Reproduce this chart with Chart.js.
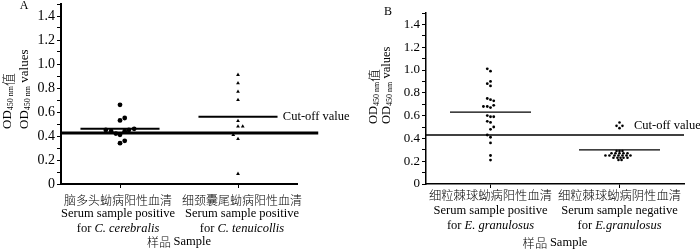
<!DOCTYPE html>
<html>
<head>
<meta charset="utf-8">
<script src="https://cdn.jsdelivr.net/npm/chart.js@4.4.0/dist/chart.umd.min.js"></script>
<style>
  html, body { margin: 0; padding: 0; background: #fff; }
  #wrap { position: relative; width: 700px; height: 249px; overflow: hidden; }
  .panel { position: absolute; top: 0; width: 350px; height: 249px; }
</style>
</head>
<body>
<div id="wrap">
  <div class="panel" style="left:0"><canvas id="chartA" width="350" height="249"></canvas></div>
  <div class="panel" style="left:350px"><canvas id="chartB" width="350" height="249"></canvas></div>
</div>
<script>
/*
 * OD450 values of serum samples, panels A and B
 **/

// Panel A: C. cerebralis / C. tenuicollis positive sera
var aCerebralis = [0.66, 0.55, 0.53, 0.45, 0.44, 0.42, 0.41, 0.44, 0.45, 0.46, 0.36, 0.34];
var aCerebralisJitter = [0, 0.04, 0, -0.12, -0.075, -0.035, 0, 0.04, 0.075, 0.12, 0.04, 0];
var aTenuicollis = [0.91, 0.84, 0.77, 0.70, 0.525, 0.48, 0.48, 0.41, 0.375, 0.085];
var aTenuicollisJitter = [0, 0, 0, 0, 0, 0, 0.04, -0.04, 0, 0];
var aMeans = [0.46, 0.56];
var aCutoff = 0.425;
var aLabelCn = ['脑多头蚴病阳性血清', '细颈囊尾蚴病阳性血清'];
var aLabelEn = ['Serum sample positive', 'Serum sample positive'];
var aSpecies = ['C. cerebralis', 'C. tenuicollis'];

// Panel B: E. granulosus positive / negative sera
var bPositive = [1.01, 0.99, 0.90, 0.88, 0.86, 0.75, 0.74, 0.73, 0.69, 0.68, 0.68, 0.67,
                 0.60, 0.59, 0.59, 0.55, 0.54, 0.50, 0.48, 0.43, 0.41, 0.36, 0.25, 0.21];
var bPositiveJitter = [-0.025, 0, 0, -0.025, 0, -0.025, 0, 0.025, 0.025, -0.055, -0.025, 0,
                       -0.025, 0, 0.025, -0.025, 0, 0.025, 0, -0.025, 0, 0, 0, 0];
var bNegative = [0.54, 0.51, 0.51, 0.49,
                 0.29, 0.29, 0.29,
                 0.27, 0.27, 0.27, 0.27, 0.27,
                 0.25, 0.25, 0.25, 0.25, 0.25, 0.25, 0.25,
                 0.23, 0.23, 0.23, 0.23, 0.23,
                 0.21, 0.21];
var bNegativeJitter = [0, -0.023, 0.023, 0,
                       -0.023, 0, 0.023,
                       -0.062, -0.031, 0, 0.031, 0.062,
                       -0.109, -0.078, -0.039, -0.008, 0.023, 0.054, 0.085,
                       -0.047, -0.016, 0.008, 0.031, 0.062,
                       -0.008, 0.016];
var bMeans = [0.63, 0.30];
var bCutoff = 0.43;
var bLabelCn = ['细粒棘球蚴病阳性血清', '细粒棘球蚴病阴性血清'];
var bLabelEn = ['Serum sample positive', 'Serum sample negative'];
var bSpecies = ['E. granulosus', 'E.granulosus'];

var yTickValues = [0, 0.2, 0.4, 0.6, 0.8, 1.0, 1.2, 1.4];
var categoryCenters = [0.5, 1.5];

(function() {

    var SERIF = "'Liberation Serif', 'Times New Roman', 'Noto Sans CJK SC', serif";
    var CJK = "'Noto Sans CJK SC', 'Liberation Serif', sans-serif";

    function font(size, style) {
	return (style ? style + ' ' : '') + size + 'px ' + SERIF;
    }

    // text drawn bottom-to-top, parts = [text, size, shift, family]
    function drawVertical(ctx, parts, x, y) {
	ctx.save();
	ctx.translate(x, y);
	ctx.rotate(-Math.PI / 2);
	ctx.textAlign = 'left';
	ctx.textBaseline = 'middle';
	var pos = 0;
	parts.forEach(function(p) {
	    ctx.font = p[3] ? '300 ' + p[1] + 'px ' + CJK : font(p[1]);
	    ctx.fillText(p[0], pos, p[2]);
	    pos += ctx.measureText(p[0]).width;
	});
	ctx.restore();
    }

    function textPlugin(p) {
	return {
	    id: 'panelText',
	    afterDraw: function(chart) {
		var ctx = chart.ctx;
		var xs = chart.scales.x, ys = chart.scales.y;
		ctx.save();
		ctx.fillStyle = '#000';
		ctx.textBaseline = 'middle';

		categoryCenters.forEach(function(c, i) {
		    var px = xs.getPixelForValue(c) + p.labelShift[i];
		    ctx.textAlign = 'center';
		    ctx.font = '300 ' + p.cnSize + 'px ' + CJK;
		    ctx.fillText(p.cn[i], px, ys.bottom + p.rows[0]);
		    ctx.font = font(p.labelSize);
		    ctx.fillText(p.en[i], px, ys.bottom + p.rows[1]);

		    var w1 = ctx.measureText('for ').width;
		    ctx.font = font(p.labelSize, 'italic');
		    var w2 = ctx.measureText(p.species[i]).width;
		    var left = px - (w1 + w2) / 2;
		    ctx.textAlign = 'left';
		    ctx.font = font(p.labelSize);
		    ctx.fillText('for ', left, ys.bottom + p.rows[2]);
		    ctx.font = font(p.labelSize, 'italic');
		    ctx.fillText(p.species[i], left + w1, ys.bottom + p.rows[2]);
		});

		// axis caption: CJK part then latin part
		ctx.textAlign = 'left';
		ctx.font = '300 ' + p.cnSize + 'px ' + CJK;
		var wc = ctx.measureText('样品 ').width;
		ctx.font = font(p.labelSize);
		var we = ctx.measureText('Sample').width;
		var cx = (xs.left + xs.right) / 2 - (wc + we) / 2;
		ctx.font = '300 ' + p.cnSize + 'px ' + CJK;
		ctx.fillText('样品 ', cx, ys.bottom + p.rows[3]);
		ctx.font = font(p.labelSize);
		ctx.fillText('Sample', cx + wc, ys.bottom + p.rows[3]);

		ctx.fillText('Cut-off value', xs.getPixelForValue(p.cutLabel[0]),
			     ys.getPixelForValue(p.cutLabel[1]));

		ctx.textAlign = 'center';
		ctx.font = font(p.letterSize);
		ctx.fillText(p.letter, p.letterPos[0], p.letterPos[1]);

		drawVertical(ctx, [['OD', p.titleSize, 0], ['450 nm', p.subSize, 3], ['值', p.titleSize, 0, true]],
			     p.titleX[0], p.titleY);
		drawVertical(ctx, [['OD', p.titleSize, 0], ['450 nm', p.subSize, 3], [' values', p.titleSize, 0]],
			     p.titleX[1], p.titleY);
		ctx.restore();
	    }
	};
    }

    function makePanel(id, p) {
	var datasets = [];
	p.series.forEach(function(s, k) {
	    datasets.push({
		data: s.values.map(function(v, i) {
		    return { x: categoryCenters[k] + s.jitter[i], y: v };
		}),
		pointStyle: s.style,
		pointRadius: s.radius,
		backgroundColor: '#000',
		borderColor: '#000',
		borderWidth: 0
	    });
	    datasets.push({
		data: [ { x: categoryCenters[k] - p.half, y: p.means[k] },
			{ x: categoryCenters[k] + p.half, y: p.means[k] } ],
		showLine: true,
		pointRadius: 0,
		borderColor: '#000',
		borderWidth: p.meanWidth
	    });
	});
	datasets.push({
	    data: [ { x: 0, y: p.cutoff }, { x: p.cutEnd, y: p.cutoff } ],
	    showLine: true,
	    pointRadius: 0,
	    borderColor: '#000',
	    borderWidth: p.cutWidth,
	    clip: false
	});

	return new Chart(document.getElementById(id), {
	    type: 'scatter',
	    data: { datasets: datasets },
	    options: {
		responsive: false,
		animation: false,
		events: [],
		layout: { padding: { top: p.top, right: p.right, left: 0, bottom: 0 } },
		plugins: { legend: { display: false }, tooltip: { enabled: false } },
		scales: {
		    x: {
			type: 'linear', min: 0, max: 2,
			afterBuildTicks: function(s) {
			    s.ticks = categoryCenters.map(function(c) { return { value: c }; });
			},
			afterFit: function(s) {
			    s.height = p.xHeight;
			    s.paddingLeft = 0; s.paddingRight = 0;
			},
			ticks: { callback: function() { return ''; } },
			grid: { drawOnChartArea: false, tickLength: 4, color: '#000', lineWidth: 1 },
			border: { color: '#000', width: p.axisWidth }
		    },
		    y: {
			type: 'linear', min: 0, max: 1.5,
			afterFit: function(s) {
			    s.width = p.yWidth;
			    s.paddingTop = 0; s.paddingBottom = 0;
			},
			ticks: {
			    stepSize: 0.1,
			    autoSkip: false,
			    padding: 2,
			    color: '#000',
			    font: { family: SERIF, size: p.tickSize },
			    callback: function(v) {
				var hit = yTickValues.filter(function(t) { return Math.abs(t - v) < 1e-6; });
				if (!hit.length) return '';
				return hit[0] === 0 ? '0' : hit[0].toFixed(1);
			    }
			},
			grid: { drawOnChartArea: false, tickLength: 4, color: '#000', lineWidth: 1 },
			border: { color: '#000', width: p.axisWidth }
		    }
		}
	    },
	    plugins: [ textPlugin(p) ]
	});
    }

    makePanel('chartA', {
	series: [
	    { values: aCerebralis, jitter: aCerebralisJitter, style: 'circle', radius: 2.4 },
	    { values: aTenuicollis, jitter: aTenuicollisJitter, style: 'triangle', radius: 2.2 }
	],
	means: aMeans, cutoff: aCutoff, cutEnd: 2.18,
	half: 0.335, meanWidth: 2, cutWidth: 3, axisWidth: 2,
	top: 4, right: 53, yWidth: 61, xHeight: 65,
	tickSize: 14, labelSize: 12.5, cnSize: 12, titleSize: 13, subSize: 8, letterSize: 12,
	cn: aLabelCn, en: aLabelEn, species: aSpecies,
	labelShift: [-2, 4],
	rows: [16, 30, 45, 58],
	cutLabel: [1.88, 0.558],
	letter: 'A', letterPos: [24, 6],
	titleX: [8, 25], titleY: 129
    });

    makePanel('chartB', {
	series: [
	    { values: bPositive, jitter: bPositiveJitter, style: 'circle', radius: 1.4 },
	    { values: bNegative, jitter: bNegativeJitter, style: 'circle', radius: 1.3 }
	],
	means: bMeans, cutoff: bCutoff, cutEnd: 2,
	half: 0.314, meanWidth: 1.3, cutWidth: 1.5, axisWidth: 1.5,
	top: 13, right: 16, yWidth: 76, xHeight: 65,
	tickSize: 13, labelSize: 12.5, cnSize: 12.3, titleSize: 12.5, subSize: 8, letterSize: 12,
	cn: bLabelCn, en: bLabelEn, species: bSpecies,
	labelShift: [0, 0],
	rows: [11.5, 27, 42, 59],
	cutLabel: [1.612, 0.515],
	letter: 'B', letterPos: [38, 12],
	titleX: [24, 37], titleY: 124
    });

}());
</script>
</body>
</html>
